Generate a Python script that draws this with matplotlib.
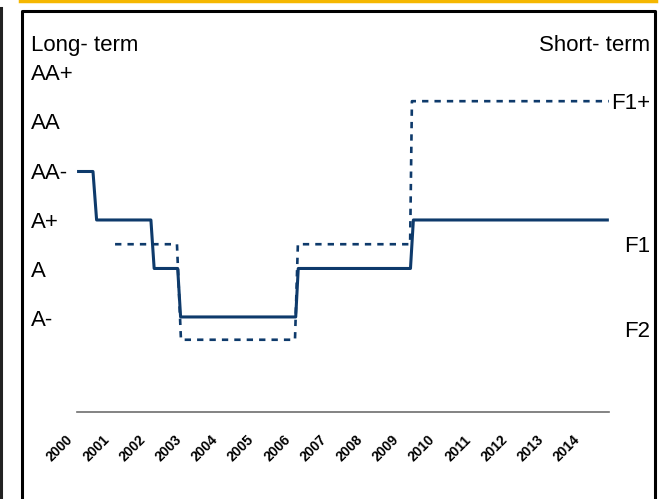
import matplotlib.pyplot as plt
import matplotlib.transforms as mtransforms
from matplotlib.lines import Line2D

plt.rcParams['font.family'] = ['Liberation Sans', 'DejaVu Sans']

# Rating scales
long_levels = ['A-', 'A', 'A+', 'AA-', 'AA', 'AA+']
short_levels = ['F2', 'F1', 'F1+']
short_pos = [-0.47, 1.5, 4.45]  # where the short-term grades sit on the long-term scale

years = list(range(2000, 2015))

# Long-term rating history (fractional years)
long_dates = [2000.14, 2000.58, 2000.68, 2002.18, 2002.27, 2002.92, 2003.0,
              2006.18, 2006.25, 2009.35, 2009.43, 2014.83]
long_ratings = ['AA-', 'AA-', 'A+', 'A+', 'A', 'A', 'A-',
                'A-', 'A', 'A', 'A+', 'A+']

# Short-term rating history
short_dates = [2001.19, 2002.90, 2003.01, 2006.16, 2006.24, 2009.34, 2009.39, 2014.83]
short_ratings = ['F1', 'F1', 'F2', 'F2', 'F1', 'F1', 'F1+', 'F1+']

W, H = 664, 499


def fx(px):
    return px / W


def fy(py):
    return 1 - py / H


fig = plt.figure(figsize=(W / 100, H / 100), dpi=100)
ax = fig.add_axes([fx(60), fy(412), fx(630) - fx(60), fy(30) - fy(412)])

long_y = [long_levels.index(r) for r in long_ratings]
short_y = [short_pos[short_levels.index(r)] for r in short_ratings]

navy = '#0e3a6b'
ax.plot(long_dates, long_y, color=navy, lw=2.2, solid_capstyle='butt')
ax.plot(short_dates, short_y, color=navy, lw=1.9, dashes=(2.4, 2.3))

ax.set_xlim(1999.669, 2015.414)
ax.set_ylim(-1.96, 5.918)

for s in ['left', 'right', 'top']:
    ax.spines[s].set_visible(False)
ax.spines['bottom'].set_color('#6e6e6e')
ax.spines['bottom'].set_linewidth(1.2)
ax.spines['bottom'].set_bounds(long_dates[0], long_dates[-1])
ax.set_yticks([])
ax.set_xticks(years)
ax.set_xticklabels([str(y) for y in years], rotation=45, ha='right', va='top',
                   rotation_mode='anchor', fontweight='bold', fontsize=10)
ax.tick_params(axis='x', length=0, pad=15)
# shift the rotated year labels a little to the left
shift = mtransforms.ScaledTranslation(-6 / 100, 0, fig.dpi_scale_trans)
for lab in ax.get_xticklabels():
    lab.set_transform(lab.get_transform() + shift)

# Rating labels left and right
fs = 16
trans = mtransforms.blended_transform_factory(fig.transFigure, ax.transData)
for i, lab in enumerate(long_levels):
    ax.text(fx(31), i - 0.08 + 0.016 * i, lab, transform=trans, ha='left', va='center', fontsize=fs)
ax.text(fx(31), 5.6, 'Long- term', transform=trans, ha='left', va='center', fontsize=fs)
ax.text(fx(650), 5.6, 'Short- term', transform=trans, ha='right', va='center', fontsize=fs)

short_label_y = [-0.29, 1.46, 4.41]
for lab, yy in zip(short_levels, short_label_y):
    ax.text(fx(650), yy, lab, transform=trans, ha='right', va='center', fontsize=fs)

# Frame around the chart
fig.add_artist(Line2D([fx(20), fx(656)], [fy(1), fy(1)], color='#f5b700', lw=2.5,
                      transform=fig.transFigure))
fig.add_artist(Line2D([fx(21.5), fx(21.5), fx(655), fx(655)],
                      [fy(499), fy(11), fy(11), fy(499)], color='black', lw=2.2,
                      transform=fig.transFigure))
fig.add_artist(Line2D([fx(1), fx(1)], [fy(8), fy(499)], color='#222222', lw=2.2,
                      transform=fig.transFigure))

fig.savefig('out.png', dpi=100)
